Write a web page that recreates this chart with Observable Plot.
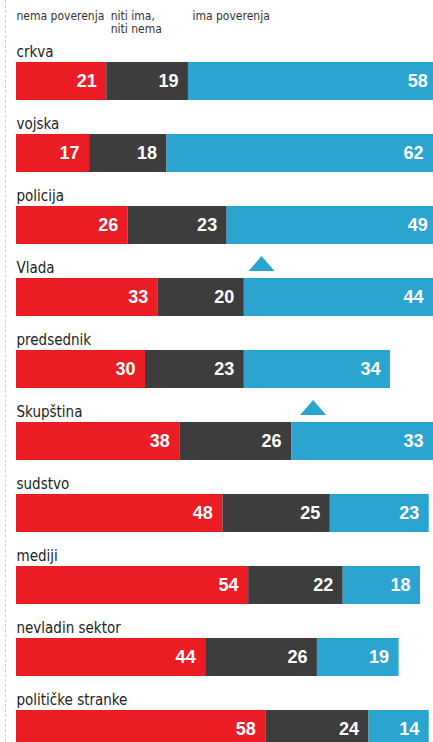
<!DOCTYPE html>
<html><head><meta charset="utf-8">
<script src="https://cdn.jsdelivr.net/npm/d3@7"></script>
<script src="https://cdn.jsdelivr.net/npm/@observablehq/plot@0.6"></script>
<style>
html,body{margin:0;padding:0;background:#fff;overflow:hidden;}
#chart{position:relative;width:433px;height:742px;overflow:hidden;}
#chart::before{content:"";position:absolute;left:5px;top:0;bottom:0;border-left:1px dashed #d0d0d0;z-index:1;}
#chart svg{overflow:hidden;}
</style></head><body><div id="chart"></div>
<script>
const categories = ["crkva","vojska","policija","Vlada","predsednik","Skupština","sudstvo","mediji","nevladin sektor","političke stranke"];
const nema = [21,17,26,33,30,38,48,54,44,58];
const niti = [19,18,23,20,23,26,25,22,26,24];
const ima  = [58,62,49,44,34,33,23,18,19,14];
const seriesNames = ["nema poverenja","niti ima, niti nema","ima poverenja"];
const headerLabels = ["nema poverenja","niti ima,\nniti nema","ima poverenja"];
const colors = ["#ec1c24","#3d3d3d","#2ba5cf"];
const trendCategories = ["Vlada","Skupština"];
const trendX = [57, 69];

const seriesValues = [nema, niti, ima];
const rows = [];
categories.forEach((c, i) => {
  seriesNames.forEach((s, j) => rows.push({category: c, series: s, value: seriesValues[j][i]}));
});
// header columns start at the boundaries of the first bar
const headerX = [0, nema[0], nema[0] + niti[0]];
const headerRows = headerLabels.map((l, i) => ({label: l, x: headerX[i]}));
const trendRows = trendCategories.map((c, i) => ({category: c, x: trendX[i]}));

const flatTriangle = {
  draw(ctx, size) {
    const r = Math.sqrt(size / Math.PI);
    const w = r, h = r * 0.58;
    ctx.moveTo(0, -h); ctx.lineTo(w, h); ctx.lineTo(-w, h); ctx.closePath();
  }
};

const narrow = "'DejaVu Sans Condensed', 'Liberation Sans Narrow', sans-serif";

const chart = Plot.plot({
  width: 433,
  height: 742,
  marginTop: 0, marginBottom: 0, marginLeft: 0, marginRight: 0,
  style: {background: "transparent", overflow: "hidden"},
  x: {domain: [0, 97], range: [16, 433], axis: null},
  y: {domain: categories, range: [24, 751], padding: 0, axis: null},
  color: {domain: seriesNames, range: colors},
  marks: [
    Plot.ruleX(headerX.slice(1), {x: d => d, y: () => categories[0], insetTop: -20, insetBottom: 38, stroke: "#c8c8c8", strokeWidth: 1}),
    Plot.text(headerRows.slice(0, 1), {x: "x", text: "label", frameAnchor: "top", lineAnchor: "top", dy: 11, dx: 0, textAnchor: "start", fontSize: 12, fontFamily: narrow, fill: "#333"}),
    Plot.text(headerRows.slice(1), {x: "x", text: "label", frameAnchor: "top", lineAnchor: "top", dy: 11, dx: 4, textAnchor: "start", fontSize: 12, lineHeight: 1.05, fontFamily: narrow, fill: "#333"}),
    Plot.barX(rows, Plot.stackX({x: "value", y: "category", fill: "series", insetTop: 34, insetBottom: 0})),
    Plot.text(rows, Plot.stackX2({x: "value", y: "category", z: "series", text: d => String(d.value), fill: "white", textAnchor: "end", dx: -10, dy: 17, fontWeight: "bold", fontSize: 18, fontFamily: "'Liberation Sans', Arial, sans-serif"})),
    Plot.text(categories, {x: () => 0, y: d => d, text: d => d, textAnchor: "start", lineAnchor: "bottom", dy: -8, fontSize: 15, fontFamily: narrow, fill: "#222"}),
    Plot.dot(trendRows, {x: "x", y: "category", symbol: flatTriangle, r: 13, fill: colors[2], stroke: "none", dy: -17})
  ]
});
document.getElementById("chart").appendChild(chart);
</script>
</body></html>
